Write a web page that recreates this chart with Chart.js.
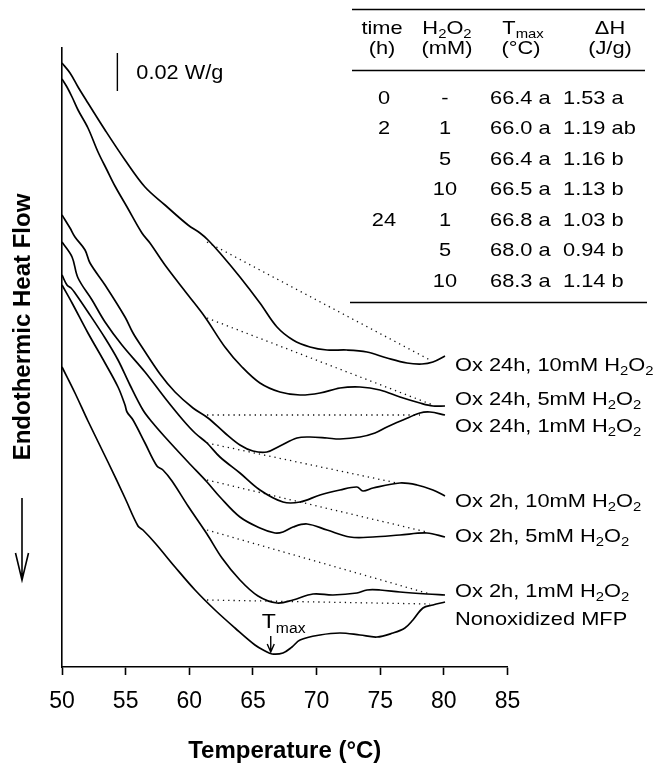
<!DOCTYPE html>
<html>
<head>
  <title>DSC thermograms of MFP</title>
  <script src="https://cdn.jsdelivr.net/npm/chart.js"></script>
  <style>
    html, body { margin: 0; padding: 0; background: #fff; }
    #chart { display: block; }
  </style>
</head>
<body>
  <canvas id="chart" width="654" height="767"></canvas>

  <script>
    // heat flow in arbitrary units (38 units = the 0.02 W/g bar), endotherm down
    const tempOx24h10 = [50.0, 50.63, 51.26, 52.04, 53.38, 54.95, 56.52, 58.09, 59.9, 60.84, 61.47, 62.41, 63.98, 65.55, 66.89, 68.15, 69.48, 70.82, 72.39, 73.96, 75.53, 77.1, 78.28, 79.14, 80.09];
    const flowOx24h10 = [604, 594, 580, 564, 537, 507, 480, 462, 442, 434, 427, 414, 390, 364, 340, 327, 320, 317, 317, 315, 309, 304, 303, 305, 311];

    const tempOx24h5 = [50.0, 50.39, 50.79, 51.26, 52.04, 52.83, 53.53, 54.16, 55.11, 56.28, 56.91, 58.09, 59.9, 61.23, 62.8, 64.14, 65.55, 67.12, 68.7, 70.27, 71.84, 73.41, 74.98, 76.55, 78.12, 79.14, 80.09];
    const flowOx24h5 = [588, 580, 570, 557, 539, 515, 497, 481, 460, 434, 424, 402, 372, 350, 320, 300, 284, 275, 272, 274, 279, 280, 277, 270, 264, 261, 261];

    const tempOx24h1 = [50.0, 50.63, 51.02, 51.81, 52.2, 53.38, 54.95, 55.58, 56.28, 57.7, 58.88, 60.29, 61.47, 62.8, 63.98, 65.0, 66.1, 67.12, 68.46, 69.48, 70.82, 71.84, 73.41, 74.59, 75.53, 76.79, 78.12, 78.91, 80.09];
    const flowOx24h1 = [452, 439, 430, 417, 404, 382, 350, 334, 320, 293, 275, 259, 249, 234, 222, 216, 215, 221, 229, 230, 229, 228, 230, 234, 240, 247, 254, 255, 252];

    const tempOx2h10 = [50.0, 50.79, 51.26, 52.36, 53.38, 54.71, 56.52, 58.09, 59.5, 60.45, 61.39, 62.41, 63.98, 65.55, 67.36, 68.7, 70.27, 71.84, 73.17, 73.64, 74.43, 76.55, 77.89, 79.14, 80.09];
    const flowOx2h10 = [425, 410, 389, 367, 345, 322, 295, 269, 247, 234, 224, 210, 194, 177, 165, 165, 172, 177, 180, 176, 179, 184, 182, 177, 171];

    const tempOx2h5 = [50.0, 50.39, 50.71, 51.02, 52.04, 53.38, 54.4, 55.34, 56.36, 57.07, 58.09, 59.9, 61.39, 62.41, 63.98, 65.55, 66.73, 67.36, 68.15, 69.25, 70.82, 72.62, 74.43, 76.55, 78.67, 80.09];
    const flowOx2h5 = [392, 382, 379, 374, 355, 329, 307, 282, 257, 245, 230, 205, 185, 170, 150, 139, 134, 135, 140, 143, 137, 130, 130, 132, 134, 130];

    const tempOx2h1 = [50.0, 50.79, 52.04, 53.38, 54.4, 54.95, 55.11, 55.58, 56.52, 57.46, 57.93, 58.64, 59.9, 61.39, 62.57, 63.98, 65.4, 66.89, 68.15, 69.72, 71.29, 73.17, 73.96, 74.98, 76.55, 78.67, 80.09];
    const flowOx2h1 = [382, 364, 334, 304, 280, 262, 255, 247, 224, 201, 197, 186, 161, 133, 109, 87, 71, 64, 67, 73, 72, 74, 77, 77, 75, 73, 72];

    const tempNonox = [50.0, 51.02, 52.04, 53.61, 54.95, 55.97, 56.36, 57.31, 58.88, 60.45, 62.02, 63.59, 65.16, 65.95, 66.5, 67.36, 68.07, 68.7, 70.27, 71.84, 73.41, 74.74, 76.0, 76.94, 77.57, 78.36, 79.14, 80.09];
    const flowNonox = [300, 274, 246, 205, 169, 141, 137, 124, 100, 77, 57, 39, 22, 16, 13, 14, 20, 27, 32, 34, 32, 30, 34, 39, 47, 59, 62, 65];

    // dotted integration baselines: [start, end]
    const baseTemp = [[61.39, 78.91], [61.39, 79.14], [61.39, 78.12], [61.39, 76.32], [61.39, 78.67], [61.39, 78.91], [61.39, 78.91]];
    const baseFlow = [[425, 307], [349, 262], [252, 252], [224, 184], [187, 135], [137, 73], [67, 63]];

    const curveNames = ['Ox 24h, 10mM H_2O_2', 'Ox 24h, 5mM H_2O_2', 'Ox 24h, 1mM H_2O_2',
                        'Ox 2h, 10mM H_2O_2', 'Ox 2h, 5mM H_2O_2', 'Ox 2h, 1mM H_2O_2', 'Nonoxidized MFP'];

    // inset table
    const tblTime = ['0', '2', '', '', '24', '', ''];
    const tblH2O2 = ['-', '1', '5', '10', '1', '5', '10'];
    const tblTmax = ['66.4 a', '66.0 a', '66.4 a', '66.5 a', '66.8 a', '68.0 a', '68.3 a'];
    const tblDH = ['1.53 a', '1.19 ab', '1.16 b', '1.13 b', '1.03 b', '0.94 b', '1.14 b'];

    const scaleBar = 38;          // units for 0.02 W/g
    const scaleBarText = '0.02 W/g';

    const FONT = "'Liberation Sans', Arial, sans-serif";

    // text with _x or _{xyz} subscripts, stretched a bit wider like the original figure
    function drawRich(ctx, str, x, y, size, opts) {
      const o = Object.assign({ align: 'left', sx: 1.18, weight: '' }, opts || {});
      const segs = str.split(/(_\{[^}]*\}|_.)/).filter(s => s.length).map(p =>
        p[0] === '_' ? { t: p.replace(/^_\{?|\}$/g, ''), sub: true } : { t: p, sub: false });
      ctx.save();
      ctx.translate(x, y);
      ctx.scale(o.sx, 1);
      ctx.fillStyle = '#000';
      ctx.textBaseline = 'alphabetic';
      let w = 0;
      segs.forEach(s => {
        ctx.font = `${o.weight} ${s.sub ? size * 0.68 : size}px ${FONT}`;
        s.w = ctx.measureText(s.t).width;
        w += s.w;
      });
      let cx = o.align === 'center' ? -w / 2 : (o.align === 'right' ? -w : 0);
      const base = size * 0.36;
      segs.forEach(s => {
        ctx.font = `${o.weight} ${s.sub ? size * 0.68 : size}px ${FONT}`;
        ctx.fillText(s.t, cx, s.sub ? base + size * 0.24 : base);
        cx += s.w;
      });
      ctx.restore();
    }

    const extras = {
      id: 'extras',
      afterDatasetsDraw(chart) {
        const ctx = chart.ctx;
        const xs = chart.scales.x, ys = chart.scales.y;
        ctx.save();
        ctx.strokeStyle = '#000';
        ctx.fillStyle = '#000';

        // curve labels at the right end
        const labelY = [303, 269, 242, 167, 132, 77, 49];
        curveNames.forEach((name, i) => {
          drawRich(ctx, name, xs.getPixelForValue(80.87), ys.getPixelForValue(labelY[i]), 18.5);
        });

        // scale bar
        const bx = xs.getPixelForValue(54.35);
        ctx.lineWidth = 1.4;
        ctx.beginPath();
        ctx.moveTo(bx, ys.getPixelForValue(614));
        ctx.lineTo(bx, ys.getPixelForValue(614 - scaleBar));
        ctx.stroke();
        drawRich(ctx, scaleBarText, bx + 19, ys.getPixelForValue(595), 20.5, { sx: 1.06 });

        // Tmax marker on the nonoxidized curve
        const tx = xs.getPixelForValue(parseFloat(tblTmax[0]));
        ctx.lineWidth = 1.4;
        ctx.beginPath();
        ctx.moveTo(tx, 636);
        ctx.lineTo(tx, 652);
        ctx.moveTo(tx - 3.5, 644);
        ctx.lineTo(tx, 652);
        ctx.lineTo(tx + 3.5, 644);
        ctx.stroke();
        drawRich(ctx, 'T_{max}', tx - 9, 620, 21, { sx: 1.1 });

        // y axis title and arrow
        ctx.save();
        ctx.translate(22, 327);
        ctx.rotate(-Math.PI / 2);
        ctx.font = `bold 24px ${FONT}`;
        ctx.textAlign = 'center';
        ctx.textBaseline = 'middle';
        ctx.fillText('Endothermic Heat Flow', 0, 1);
        ctx.restore();
        ctx.lineWidth = 1.6;
        ctx.beginPath();
        ctx.moveTo(22, 498);
        ctx.lineTo(22, 580);
        ctx.moveTo(15.5, 553);
        ctx.lineTo(22, 580);
        ctx.lineTo(28.5, 553);
        ctx.stroke();

        // inset table
        ctx.lineWidth = 1.3;
        ctx.beginPath();
        ctx.moveTo(352, 9.5); ctx.lineTo(645, 9.5);
        ctx.moveTo(352, 70.5); ctx.lineTo(645, 70.5);
        ctx.moveTo(350, 302.5); ctx.lineTo(647, 302.5);
        ctx.stroke();
        const hs = 18.5;
        drawRich(ctx, 'time', 382, 27, hs, { align: 'center' });
        drawRich(ctx, '(h)', 382, 47, hs, { align: 'center' });
        drawRich(ctx, 'H_2O_2', 447, 27, hs, { align: 'center' });
        drawRich(ctx, '(mM)', 447, 47, hs, { align: 'center' });
        drawRich(ctx, 'T_{max}', 523, 27, hs, { align: 'center' });
        drawRich(ctx, '(°C)', 521, 47, hs, { align: 'center' });
        drawRich(ctx, 'ΔH', 610, 27, hs, { align: 'center' });
        drawRich(ctx, '(J/g)', 610, 47, hs, { align: 'center' });
        tblTime.forEach((t, i) => {
          const ry = 97 + i * 30.5;
          if (t) drawRich(ctx, t, 384, ry, hs, { align: 'center' });
          drawRich(ctx, tblH2O2[i], 445, ry, hs, { align: 'center' });
          drawRich(ctx, tblTmax[i], 490, ry, hs);
          drawRich(ctx, tblDH[i], 563, ry, hs);
        });
        ctx.restore();
      }
    };

    function curve(t, f) {
      return {
        data: t.map((x, i) => ({ x: x, y: f[i] })),
        borderColor: '#000',
        borderWidth: 1.7,
        pointRadius: 0,
        tension: 0.35,
        fill: false
      };
    }

    function baseline(i) {
      return {
        data: baseTemp[i].map((x, k) => ({ x: x, y: baseFlow[i][k] })),
        borderColor: '#111',
        borderWidth: 1.3,
        borderDash: [1.3, 4],
        pointRadius: 0,
        fill: false
      };
    }

    const datasets = [
      curve(tempOx24h10, flowOx24h10),
      curve(tempOx24h5, flowOx24h5),
      curve(tempOx24h1, flowOx24h1),
      curve(tempOx2h10, flowOx2h10),
      curve(tempOx2h5, flowOx2h5),
      curve(tempOx2h1, flowOx2h1),
      curve(tempNonox, flowNonox)
    ];
    for (let i = 0; i < baseTemp.length; i++) datasets.push(baseline(i));

    new Chart(document.getElementById('chart').getContext('2d'), {
      type: 'line',
      data: { datasets: datasets },
      options: {
        responsive: false,
        animation: false,
        layout: { padding: { left: 0, right: 146.5, top: 48, bottom: 0 } },
        plugins: { legend: { display: false }, tooltip: { enabled: false } },
        scales: {
          x: {
            type: 'linear',
            min: 50,
            max: 85,
            afterFit: s => { s.height = 100; },
            ticks: { stepSize: 5, color: '#000', padding: 13, font: { family: FONT, size: 23 } },
            grid: { drawOnChartArea: false, tickLength: 8, tickColor: '#000', tickWidth: 1.6 },
            border: { color: '#000', width: 1.6 },
            title: { display: true, text: 'Temperature (°C)', color: '#000', padding: { top: 0, bottom: 1.3 },
                     font: { family: FONT, size: 24, weight: 'bold' } }
          },
          y: {
            min: 0,
            max: 619,
            afterFit: s => { s.width = 62; },
            ticks: { display: false },
            grid: { drawOnChartArea: false, drawTicks: false },
            border: { color: '#000', width: 1.6 }
          }
        }
      },
      plugins: [extras]
    });
  </script>
</body>
</html>
